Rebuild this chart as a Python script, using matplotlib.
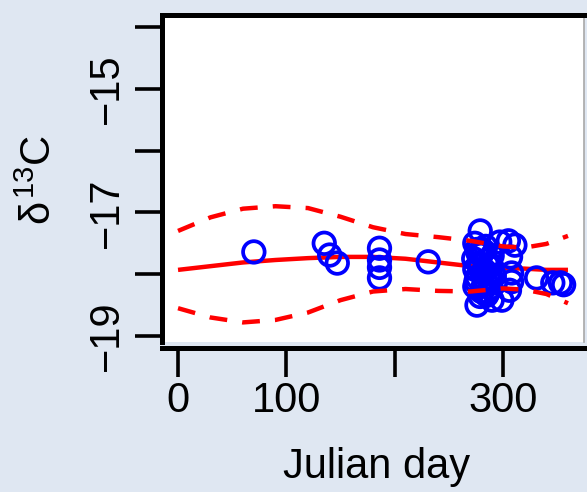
import matplotlib
matplotlib.use("Agg")
import matplotlib.pyplot as plt

# Fitted seasonal trend with its confidence band (Julian day vs delta 13C)
fit_day = [0, 30, 60, 90, 120, 150, 180, 210, 240, 270, 300, 320, 340, 360]
fit_mean = [-17.93, -17.87, -17.81, -17.77, -17.74, -17.72, -17.72, -17.75,
            -17.81, -17.87, -17.90, -17.91, -17.93, -17.93]
fit_upper = [-17.30, -17.08, -16.94, -16.90, -16.93, -17.07, -17.24, -17.35,
             -17.40, -17.46, -17.55, -17.57, -17.51, -17.38]
fit_lower = [-18.55, -18.70, -18.78, -18.74, -18.62, -18.42, -18.28, -18.24,
             -18.27, -18.28, -18.23, -18.25, -18.32, -18.47]

# Observed samples
obs_day = [70, 135, 140, 147, 186, 186, 186, 186, 231, 279,
           274, 276, 280, 284, 273, 278, 285, 290, 274, 281,
           288, 276, 284, 292, 274, 280, 289, 276, 290, 299,
           297, 305, 311, 307, 308, 308, 306, 331, 346, 353, 356,
           277, 282, 286, 279, 283, 287, 275, 282, 286, 279, 285, 293]
obs_d13c = [-17.64, -17.50, -17.69, -17.82, -17.58, -17.77, -17.89, -18.06, -17.80, -17.30,
            -17.50, -17.60, -17.68, -17.55, -17.75, -17.82, -17.78, -17.70, -17.92, -17.98,
            -17.88, -18.05, -18.12, -18.02, -18.20, -18.28, -18.22, -18.50, -18.42, -18.42,
            -17.48, -17.46, -17.53, -17.72, -17.98, -18.12, -18.26, -18.06, -18.14, -18.14, -18.17,
            -17.66, -17.62, -17.86, -17.85, -17.94, -18.06, -18.12, -18.18, -18.30, -18.36, -18.34, -18.14]

x_ticks = [0, 100, 200, 300]
x_ticklabels = ["0", "100", "", "300"]
y_ticks = [-14, -15, -16, -17, -18, -19]
y_ticklabels = ["", "\u221215", "", "\u221217", "", "\u221219"]

plt.rcParams["font.family"] = ["Liberation Sans", "DejaVu Sans"]
plt.rcParams["mathtext.fontset"] = "custom"
plt.rcParams["mathtext.rm"] = "Liberation Sans"
plt.rcParams["mathtext.it"] = "Liberation Sans"

W, H = 587, 492
fig = plt.figure(figsize=(W / 100, H / 100), dpi=100, facecolor="#dfe7f2")
left, right, top, bottom = 162, 584, 15, 342
ax = fig.add_axes([left / W, 1 - bottom / H, (right - left) / W, (bottom - top) / H])
ax.set_facecolor("white")

ax.plot(fit_day, fit_mean, color="red", lw=3.2, zorder=2, solid_capstyle="butt")
ax.scatter(obs_day, obs_d13c, s=15.5 ** 2, facecolors="none", edgecolors="blue",
           linewidths=2.7, zorder=3)
for band in (fit_upper, fit_lower):
    ax.plot(fit_day, band, color="red", lw=3.2, dashes=(4.0, 3.4), zorder=4)

ax.set_xlim(-14.8, 374.8)
ax.set_ylim(-19.097, -13.806)

ax.set_xticks(x_ticks)
ax.set_xticklabels(x_ticklabels)
ax.set_yticks(y_ticks)
ax.set_yticklabels(y_ticklabels)
ax.tick_params(axis="both", direction="out", width=2.6, color="black",
               labelsize=30, labelcolor="black")
ax.tick_params(axis="x", length=21, pad=3)
ax.tick_params(axis="y", length=19.5, pad=6, labelrotation=90)
for lab in ax.get_yticklabels():
    lab.set_va("center")

for side in ("left", "top", "bottom"):
    ax.spines[side].set_linewidth(3.6)
    ax.spines[side].set_color("black")
ax.spines["right"].set_linewidth(1.2)
ax.spines["right"].set_color("#a8a8a8")
ax.spines["bottom"].set_position(("outward", 4))

fig.text(40 / W, 1 - 180 / H, r"$\delta^{13}$C", rotation=90, ha="center",
         va="center", fontsize=30)
fig.text(377 / W, 1 - 467 / H, "Julian day", ha="center", va="center", fontsize=30)

fig.savefig("out.png", dpi=100, facecolor=fig.get_facecolor())
